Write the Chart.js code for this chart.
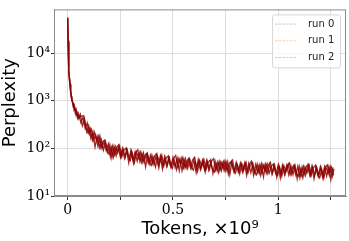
<!DOCTYPE html>
<html>
<head>
<meta charset="utf-8">
<script src="https://cdn.jsdelivr.net/npm/chart.js@4/dist/chart.umd.min.js"></script>
<style>
  html, body { margin: 0; padding: 0; background: #fff; }
  #wrap { width: 349px; height: 241px; }
</style>
</head>
<body>
<div id="wrap"><canvas id="pplChart" width="349" height="241"></canvas></div>
<script>
'use strict';

// tokens seen (x 1e9) at each logged step; the three runs log at slightly shifted steps
var tokens0 = [0, 0.002, 0.004, 0.006, 0.008, 0.01, 0.013, 0.016, 0.02, 0.025, 0.03, 0.035, 0.04, 0.045, 0.05,
  0.06, 0.07, 0.08, 0.09, 0.10, 0.11, 0.12, 0.13, 0.14, 0.15, 0.16, 0.17, 0.18, 0.19, 0.20,
  0.21, 0.22, 0.23, 0.24, 0.25, 0.26, 0.27, 0.28, 0.29, 0.30, 0.31, 0.32, 0.33, 0.34, 0.35,
  0.36, 0.37, 0.38, 0.39, 0.40, 0.41, 0.42, 0.43, 0.44, 0.45, 0.46, 0.47, 0.48, 0.49, 0.50,
  0.51, 0.52, 0.53, 0.54, 0.55, 0.56, 0.57, 0.58, 0.59, 0.60, 0.61, 0.62, 0.63, 0.64, 0.65,
  0.66, 0.67, 0.68, 0.69, 0.70, 0.71, 0.72, 0.73, 0.74, 0.75, 0.76, 0.77, 0.78, 0.79, 0.80,
  0.81, 0.82, 0.83, 0.84, 0.85, 0.86, 0.87, 0.88, 0.89, 0.90, 0.91, 0.92, 0.93, 0.94, 0.95,
  0.96, 0.97, 0.98, 0.99, 1.00, 1.01, 1.02, 1.03, 1.04, 1.05, 1.06, 1.07, 1.08, 1.09, 1.10,
  1.11, 1.12, 1.13, 1.14, 1.15, 1.16, 1.17, 1.18, 1.19, 1.20, 1.21, 1.22, 1.23, 1.24, 1.25, 1.26];

var tokens1 = [0, 0.002, 0.004, 0.006, 0.008, 0.011, 0.014, 0.017, 0.021, 0.026, 0.031, 0.036, 0.041, 0.046, 0.051,
  0.063, 0.073, 0.083, 0.093, 0.103, 0.113, 0.123, 0.133, 0.143, 0.153, 0.163, 0.173, 0.183, 0.193, 0.203,
  0.213, 0.223, 0.233, 0.243, 0.253, 0.263, 0.273, 0.283, 0.293, 0.303, 0.313, 0.323, 0.333, 0.343, 0.353,
  0.363, 0.373, 0.383, 0.393, 0.403, 0.413, 0.423, 0.433, 0.443, 0.453, 0.463, 0.473, 0.483, 0.493, 0.503,
  0.513, 0.523, 0.533, 0.543, 0.553, 0.563, 0.573, 0.583, 0.593, 0.603, 0.613, 0.623, 0.633, 0.643, 0.653,
  0.663, 0.673, 0.683, 0.693, 0.703, 0.713, 0.723, 0.733, 0.743, 0.753, 0.763, 0.773, 0.783, 0.793, 0.803,
  0.813, 0.823, 0.833, 0.843, 0.853, 0.863, 0.873, 0.883, 0.893, 0.903, 0.913, 0.923, 0.933, 0.943, 0.953,
  0.963, 0.973, 0.983, 0.993, 1.003, 1.013, 1.023, 1.033, 1.043, 1.053, 1.063, 1.073, 1.083, 1.093, 1.103,
  1.113, 1.123, 1.133, 1.143, 1.153, 1.163, 1.173, 1.183, 1.193, 1.203, 1.213, 1.223, 1.233, 1.243, 1.253, 1.263];

var tokens2 = [0, 0.002, 0.004, 0.006, 0.009, 0.012, 0.015, 0.018, 0.022, 0.027, 0.032, 0.037, 0.042, 0.047, 0.053,
  0.067, 0.077, 0.087, 0.097, 0.107, 0.117, 0.127, 0.137, 0.147, 0.157, 0.167, 0.177, 0.187, 0.197, 0.207,
  0.217, 0.227, 0.237, 0.247, 0.257, 0.267, 0.277, 0.287, 0.297, 0.307, 0.317, 0.327, 0.337, 0.347, 0.357,
  0.367, 0.377, 0.387, 0.397, 0.407, 0.417, 0.427, 0.437, 0.447, 0.457, 0.467, 0.477, 0.487, 0.497, 0.507,
  0.517, 0.527, 0.537, 0.547, 0.557, 0.567, 0.577, 0.587, 0.597, 0.607, 0.617, 0.627, 0.637, 0.647, 0.657,
  0.667, 0.677, 0.687, 0.697, 0.707, 0.717, 0.727, 0.737, 0.747, 0.757, 0.767, 0.777, 0.787, 0.797, 0.807,
  0.817, 0.827, 0.837, 0.847, 0.857, 0.867, 0.877, 0.887, 0.897, 0.907, 0.917, 0.927, 0.937, 0.947, 0.957,
  0.967, 0.977, 0.987, 0.997, 1.007, 1.017, 1.027, 1.037, 1.047, 1.057, 1.067, 1.077, 1.087, 1.097, 1.107,
  1.117, 1.127, 1.137, 1.147, 1.157, 1.167, 1.177, 1.187, 1.197, 1.207, 1.217, 1.227, 1.237, 1.247, 1.257, 1.265];

// perplexity per run
var run0 = [55000, 18000, 7500, 4200, 2900, 2200, 1600, 1250, 1000, 900, 640, 700, 500, 560, 420,
  525, 296, 400, 224, 300, 164, 225, 107, 175, 104, 152, 92, 135, 82, 120,
  63, 111, 70, 106, 66, 100, 62, 95, 50, 90, 56, 85, 54, 81, 51,
  79, 41, 75, 47, 72, 46, 70, 44, 69, 37, 67, 42, 65, 41, 64,
  40, 62, 34, 61, 39, 60, 38, 59, 38, 58, 31, 57, 36, 56, 36,
  56, 35, 55, 30, 54, 34, 53, 34, 52, 34, 52, 28, 51, 32, 50,
  32, 49, 32, 49, 27, 48, 31, 47, 30, 47, 30, 47, 25, 46, 30,
  46, 29, 45, 29, 45, 24, 44, 28, 44, 28, 44, 28, 43, 23, 42,
  27, 42, 27, 42, 27, 42, 23, 41, 26, 41, 26, 41, 26, 41, 22, 40];

var run1 = [54000, 17000, 7200, 4300, 2800, 2150, 1650, 1200, 1020, 760, 820, 560, 650, 450, 540,
  344, 451, 262, 342, 197, 250, 148, 193, 115, 182, 100, 140, 89, 124, 67,
  112, 73, 106, 119, 67, 98, 64, 93, 61, 88, 49, 83, 94, 53, 78,
  52, 74, 49, 72, 48, 70, 78, 39, 67, 44, 65, 43, 63, 42, 62,
  71, 41, 60, 34, 59, 39, 58, 39, 57, 65, 38, 56, 37, 55, 32,
  54, 36, 54, 61, 35, 52, 35, 51, 34, 51, 29, 50, 57, 33, 49,
  33, 48, 32, 48, 32, 47, 54, 27, 46, 31, 46, 31, 45, 30, 45,
  51, 30, 44, 25, 44, 29, 43, 29, 43, 49, 29, 42, 28, 42, 24,
  41, 28, 41, 47, 27, 41, 27, 40, 27, 40, 23, 40, 45, 27, 40, 27];

var run2 = [56000, 18500, 7700, 4100, 2950, 2250, 1580, 1270, 980, 870, 710, 630, 530, 510, 440,
  483, 481, 272, 207, 264, 148, 220, 145, 182, 104, 140, 150, 92, 75, 106,
  66, 109, 80, 111, 66, 92, 101, 65, 55, 79, 50, 83, 62, 85, 51,
  72, 79, 51, 44, 64, 41, 68, 51, 72, 43, 62, 69, 44, 38, 56,
  36, 61, 46, 64, 39, 55, 62, 40, 35, 51, 33, 56, 42, 59, 36,
  51, 57, 37, 32, 47, 31, 52, 39, 55, 34, 48, 53, 35, 30, 44,
  29, 48, 36, 51, 31, 44, 50, 32, 28, 42, 27, 46, 34, 48, 30,
  42, 47, 31, 27, 40, 26, 43, 33, 46, 28, 40, 45, 29, 26, 37,
  24, 41, 31, 44, 27, 39, 44, 28, 24, 36, 24, 40, 30, 42, 26, 37];

var runLabels = ['run 0', 'run 1', 'run 2'];
var legendColors = ['rgba(31,119,180,0.35)', 'rgba(255,127,14,0.35)', 'rgba(44,160,44,0.35)'];
var lineColor = 'rgba(139,0,0,0.85)';

var xTickValues = [0, 0.25, 0.5, 0.75, 1, 1.25];
var xTickLabels = ['0', '', '0.5', '', '1', ''];
var yTickValues = [10, 100, 1000, 10000];
var yTickLabels = ['10\u00b9', '10\u00b2', '10\u00b3', '10\u2074'];

function toPoints(xs, ys) {
    return xs.map(function (x, i) { return { x: x, y: ys[i] }; });
}

// box around the plot, like the matplotlib spines
var framePlugin = {
    id: 'frame',
    afterDatasetsDraw: function (chart) {
        var a = chart.chartArea, ctx = chart.ctx;
        ctx.save();
        ctx.strokeStyle = '#8a8a8a';
        ctx.lineWidth = 1;
        ctx.strokeRect(a.left + 0.5, a.top + 0.5, a.right - a.left - 1, a.bottom - a.top - 1);
        ctx.restore();
    }
};

// small legend in the top right corner of the plot
var cornerLegend = {
    id: 'cornerLegend',
    afterDraw: function (chart) {
        var a = chart.chartArea, ctx = chart.ctx;
        var w = 68, h = 53;
        var x0 = a.right - 6 - w, y0 = a.top + 5;
        ctx.save();
        ctx.beginPath();
        ctx.roundRect(x0 + 0.5, y0 + 0.5, w, h, 2);
        ctx.fillStyle = 'rgba(255,255,255,0.8)';
        ctx.fill();
        ctx.strokeStyle = '#d6d6d6';
        ctx.lineWidth = 1;
        ctx.stroke();
        ctx.font = '10px "DejaVu Sans"';
        ctx.textBaseline = 'middle';
        ctx.textAlign = 'left';
        chart.data.datasets.forEach(function (ds, i) {
            var y = y0 + 9.7 + i * 16.7;
            ctx.beginPath();
            ctx.setLineDash([2.5, 1.2]);
            ctx.strokeStyle = legendColors[i];
            ctx.moveTo(x0 + 3, y);
            ctx.lineTo(x0 + 25, y);
            ctx.stroke();
            ctx.setLineDash([]);
            ctx.fillStyle = '#222';
            ctx.fillText(ds.label, x0 + 36, y);
        });
        ctx.restore();
    }
};

var runs = [run0, run1, run2];
var runTokens = [tokens0, tokens1, tokens2];
var datasets = runs.map(function (r, i) {
    return {
        label: runLabels[i],
        data: toPoints(runTokens[i], r),
        borderColor: lineColor,
        borderWidth: 1.3,
        pointRadius: 0,
        tension: 0,
        fill: false
    };
});

var ctx = document.getElementById('pplChart').getContext('2d');
var myChart = new Chart(ctx, {
    type: 'line',
    data: { datasets: datasets },
    options: {
        responsive: false,
        animation: false,
        layout: { padding: { top: 2, right: 3, left: 0, bottom: 0 } },
        plugins: {
            legend: { display: false },
            tooltip: { enabled: false }
        },
        scales: {
            x: {
                type: 'linear',
                min: -0.065,
                max: 1.322,
                afterBuildTicks: function (axis) {
                    axis.ticks = xTickValues.map(function (v) { return { value: v }; });
                },
                afterFit: function (scale) { scale.height = 45; },
                ticks: {
                    autoSkip: false,
                    maxRotation: 0,
                    padding: 2,
                    color: '#000',
                    font: { family: '"DejaVu Serif"', size: 14 },
                    callback: function (value) {
                        return xTickLabels[xTickValues.indexOf(value)];
                    }
                },
                grid: { color: '#dddddd', tickColor: '#333', tickLength: 4 },
                border: { color: '#8a8a8a' },
                title: {
                    display: true,
                    text: 'Tokens, \u00d710\u2079',
                    color: '#000',
                    font: { family: '"DejaVu Sans"', size: 18 },
                    padding: { top: 0, bottom: 1 }
                }
            },
            y: {
                type: 'logarithmic',
                min: 10,
                max: 83000,
                afterBuildTicks: function (axis) {
                    axis.ticks = yTickValues.map(function (v) { return { value: v }; });
                },
                afterFit: function (scale) { scale.width = 54; },
                ticks: {
                    autoSkip: false,
                    padding: 1,
                    color: '#000',
                    font: { family: '"DejaVu Serif"', size: 14 },
                    callback: function (value) {
                        return yTickLabels[yTickValues.indexOf(value)];
                    }
                },
                grid: { color: '#dddddd', tickColor: '#333', tickLength: 3 },
                border: { color: '#8a8a8a' },
                title: {
                    display: true,
                    text: 'Perplexity',
                    color: '#000',
                    font: { family: '"DejaVu Sans"', size: 18 },
                    padding: { top: 0, bottom: 0 }
                }
            }
        }
    },
    plugins: [framePlugin, cornerLegend]
});
</script>
</body>
</html>
